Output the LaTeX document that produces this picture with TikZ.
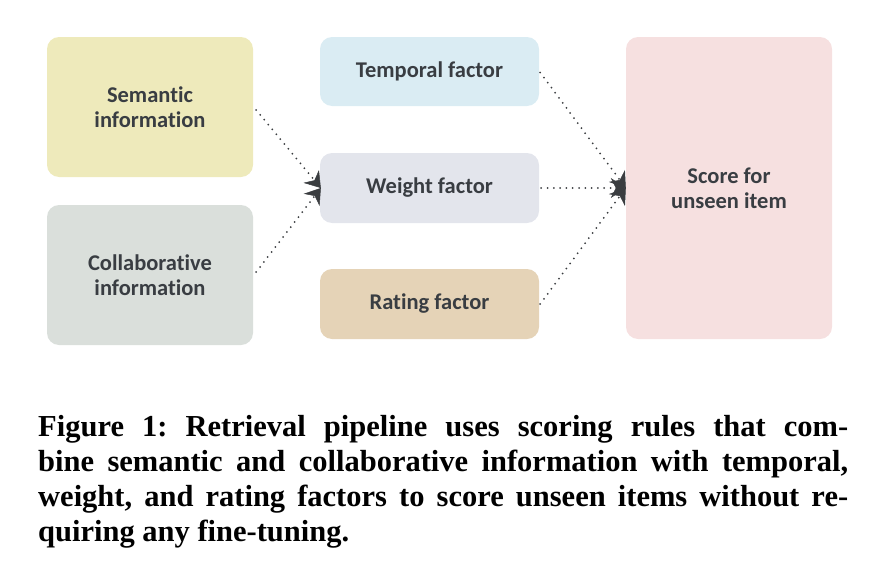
\documentclass[tikz,border=0pt]{standalone}
\usepackage{fontspec}
\setmainfont{Liberation Serif}
\newfontfamily\boxfont[Ligatures=CommonOff]{Carlito}
\usetikzlibrary{arrows.meta}
\definecolor{txt}{HTML}{393D42}
\definecolor{csem}{HTML}{EEEABB}
\definecolor{ccol}{HTML}{DADFDB}
\definecolor{ctmp}{HTML}{DAECF3}
\definecolor{cwgt}{HTML}{E3E5EC}
\definecolor{crat}{HTML}{E5D3B7}
\definecolor{cscr}{HTML}{F6E0E0}
\definecolor{arr}{HTML}{3A3D40}
\tikzset{
  box/.style={rounded corners=12pt, inner sep=0pt, align=center, text=txt,
    font=\boxfont\bfseries\fontsize{22.5}{25}\selectfont},
  conn/.style={draw=arr, line width=2pt, line cap=round,
    dash pattern=on 0pt off 6.3pt,
    -{Stealth[length=15pt,width=20pt,inset=5pt,fill=arr,line width=0.5pt,line cap=butt,sep=0pt]}}
}
\begin{document}
\begin{tikzpicture}[x=1pt,y=-1pt]
\useasboundingbox (0,0) rectangle (894,562);
\node[box, fill=csem, minimum width=206pt, minimum height=140pt] (sem) at (150,107) {Semantic\\information};
\node[box, fill=ccol, minimum width=206pt, minimum height=140pt] (col) at (150,275) {Collaborative\\information};
\node[box, fill=ctmp, minimum width=219pt, minimum height=69pt] (tmp) at (429.5,71.5) {Temporal factor};
\node[box, fill=cwgt, minimum width=219pt, minimum height=70pt] (wgt) at (429.5,188) {Weight factor};
\node[box, fill=crat, minimum width=219pt, minimum height=70pt] (rat) at (429.5,304) {Rating factor};
\node[box, fill=cscr, minimum width=206pt, minimum height=302pt] (scr) at (729,188) {Score for\\unseen item};
\draw[conn] ([xshift=3pt,yshift=-3pt]sem.east) -- ([xshift=1pt]wgt.west);
\draw[conn] ([xshift=3pt,yshift=3pt]col.east) -- ([xshift=1pt]wgt.west);
\draw[conn] ([xshift=1pt,yshift=-1pt]tmp.east) -- ([xshift=0pt]scr.west);
\draw[conn] ([xshift=2pt]wgt.east) -- ([xshift=0pt]scr.west);
\draw[conn] ([xshift=1pt]rat.east) -- ([xshift=0pt]scr.west);
\node[anchor=north west, inner sep=0pt, text width=810pt, align=justify,
  font=\frenchspacing\bfseries\fontsize{30.5}{35}\selectfont, text=black] (cap) at (38,415)
  {Figure 1: Retrieval pipeline uses scoring rules that com-\linebreak bine semantic and collaborative information with temporal,\linebreak weight, and rating factors to score unseen items without re-\linebreak quiring any fine-tuning.};
\end{tikzpicture}
\end{document}
